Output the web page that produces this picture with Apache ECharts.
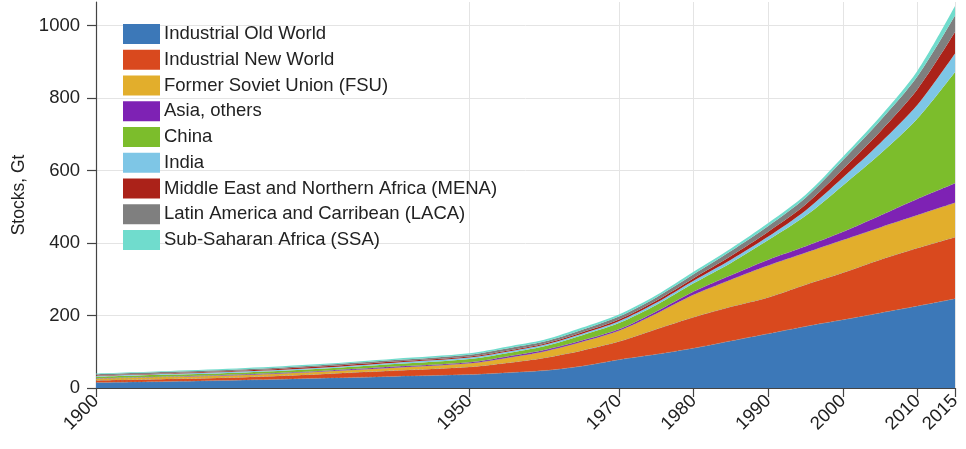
<!DOCTYPE html>
<html>
<head>
<meta charset="utf-8">
<script src="https://cdn.jsdelivr.net/npm/echarts@6/dist/echarts.min.js"></script>
<style>
html,body{margin:0;padding:0;background:#fff;}
#c{width:966px;height:449px;}
</style>
</head>
<body>
<div id="c"></div>
<script>
const years = [1900,1910,1920,1930,1940,1950,1955,1960,1965,1970,1975,1980,1985,1990,1995,2000,2005,2010,2015];
const xTicks = [1900,1950,1970,1980,1990,2000,2010,2015];
const yTicks = [0,200,400,600,800,1000];
const seriesNames = ['Industrial Old World','Industrial New World','Former Soviet Union (FSU)','Asia, others','China','India','Middle East and Northern Africa (MENA)','Latin America and Carribean (LACA)','Sub-Saharan Africa (SSA)'];
const oldWorld = [15,18,22,27,32,37,42,48,60,78,93,110,130,150,170,188,207,226,246];
const newWorld = [6,7,8,11,16,21,27,35,43,50,69,85,94,100,115,130,147,160,170];
const fsu      = [5,6,6,7,8,10,14,18,24,30,43,62,75,88,88,90,89,91,95];
const asiaOth  = [1,1,2,2,3,3,4,4,4,4,6,9,12,16,18,23,33,45,54];
const china    = [4,5,5,6,7,9,9,10,14,17,18,23,34,54,84,128,170,222,307];
const india    = [2,2,3,3,4,4,4,4,4,5,6,7,9,10,15,22,30,38,51];
const mena     = [2,2,2,3,3,3,3,3,4,5,6,7,10,13,16,23,32,43,59];
const laca     = [3,4,4,4,4,5,6,6,7,8,9,11,14,16,19,25,30,36,46];
const ssa      = [2,2,3,3,4,4,5,5,6,6,6,7,7,8,8,9,11,15,26];
const seriesData = [oldWorld,newWorld,fsu,asiaOth,china,india,mena,laca,ssa];
const colors = ['#3c78b8','#d9491e','#e2ae2c','#7e22b4','#7cbd2c','#7ec6e6','#ab2219','#7f7f7f','#70dccd'];

const chart = echarts.init(document.getElementById('c'), null, {renderer:'canvas'});
const font = 'Liberation Sans, Arial, sans-serif';
chart.setOption({
  animation:false,
  color: colors,
  grid:{left:96,right:11,top:2,bottom:61,containLabel:false},
  legend:{
    orient:'vertical', left:118, top:19,
    itemWidth:37, itemHeight:20, itemGap:5.75,
    icon:'rect',
    textStyle:{fontFamily:font,fontSize:18.5,color:'#222',padding:[0,0,0,-1]},
    data: seriesNames
  },
  xAxis:{
    type:'value', min:1900, max:2015,
    axisLine:{show:true,lineStyle:{color:'#444',width:1.2}},
    axisTick:{show:true,length:9,lineStyle:{color:'#444',width:1.2},customValues:xTicks},
    axisLabel:{rotate:45,margin:10,fontFamily:font,fontSize:18.5,color:'#222',customValues:xTicks,formatter:v=>String(v)},
    splitLine:{show:true,lineStyle:{color:'#e4e4e4',width:1}}
  },
  yAxis:{
    type:'value', min:0, max:1065,
    name:'Stocks, Gt', nameLocation:'middle', nameGap:54,
    nameTextStyle:{fontFamily:font,fontSize:17.5,color:'#222'},
    axisLine:{show:true,lineStyle:{color:'#444',width:1.2}},
    axisTick:{show:true,length:9,lineStyle:{color:'#444',width:1.2},customValues:yTicks},
    axisLabel:{margin:16,fontFamily:font,fontSize:18.5,color:'#222',customValues:yTicks,formatter:v=>String(v)},
    splitLine:{show:true,lineStyle:{color:'#e4e4e4',width:1}}
  },
  series: seriesNames.map((n,i)=>({
    name:n, type:'line', stack:'total', smooth:0.3,
    symbol:'none',
    lineStyle: i < 4 ? {width:0.7,type:'dashed',color:'rgba(150,150,150,0.7)'} : {width:0},
    areaStyle:{opacity:1,color:colors[i]},
    encode:{x:1,y:0},
    data: years.map((y,j)=>[seriesData[i][j],y])
  }))
});
</script>
</body>
</html>
